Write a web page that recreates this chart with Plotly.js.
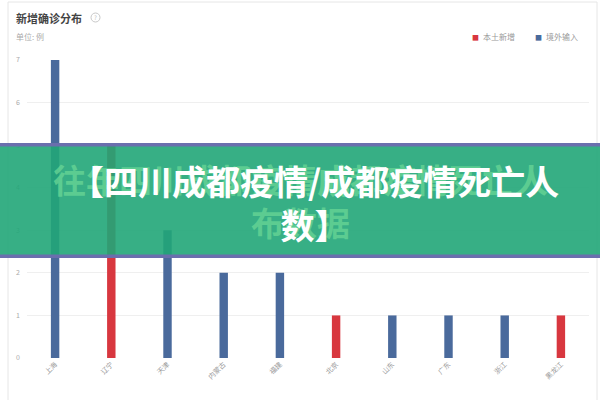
<!DOCTYPE html>
<html>
<head>
<meta charset="utf-8">
<script src="https://cdn.plot.ly/plotly-3.0.1.min.js"></script>
<style>html,body{margin:0;padding:0;background:#fff;}#chart{width:600px;height:400px;}</style>
</head>
<body>
<div id="chart"></div>
<script>
const categories = ['上海','辽宁','天津','内蒙古','福建','北京','山东','广东','浙江','黑龙江'];
const localNew = [null, 5, null, null, null, 1, null, null, null, 1];
const imported = [7, null, 3, 2, 2, null, 1, 1, 1, null];
const seriesNames = ['本土新增', '境外输入'];
const seriesColors = ['#d8373f', '#4a6a9c'];
const yTicks = [0,1,2,3,4,5,6,7];

const W = 600, H = 400, L = 27, R = 11, T = 60, B = 42;
const pw = W - L - R, ph = H - T - B;
const px = x => (x - L) / pw;
const py = y => (H - B - y) / ph;

const font = '"Noto Sans CJK SC", "Noto Sans", sans-serif';

const traces = [
  {type:'bar', name: seriesNames[0], x: categories, y: localNew, width: 0.15,
   marker:{color: seriesColors[0]}},
  {type:'bar', name: seriesNames[1], x: categories, y: imported, width: 0.15,
   marker:{color: seriesColors[1]}}
];

const legendAnn = [];
const legendX = [475, 538];
seriesNames.forEach((n, i) => {
  legendAnn.push({xref:'paper', yref:'paper', x: px(legendX[i]), y: py(37), xanchor:'center', yanchor:'middle',
    text:'■', showarrow:false, font:{size:7, color: seriesColors[i], family:font}});
  legendAnn.push({xref:'paper', yref:'paper', x: px(legendX[i] + 6), y: py(37), xanchor:'left', yanchor:'middle',
    text: n, showarrow:false, font:{size:8, color:'#999', family:font}});
});

const layout = {
  width: W, height: H,
  margin: {l: L, r: R, t: T, b: B, autoexpand: false},
  paper_bgcolor: '#ffffff', plot_bgcolor: '#ffffff',
  barmode: 'overlay',
  font: {family: font, color: '#999'},
  xaxis: {type:'category', tickangle: -45, tickfont:{size:7, color:'#999'},
          showgrid:false, zeroline:false, showline:false, ticks:'', automargin:false},
  yaxis: {range:[0,7], tickvals: yTicks, tickfont:{size:7, color:'#aaa'},
          gridcolor:'#efefef', zeroline:false, showline:false, ticks:'', automargin:false, ticklabelstandoff: 6},
  showlegend: false,
  shapes: [
    {type:'rect', xref:'paper', yref:'paper', x0: px(8), x1: px(597), y0: py(2), y1: py(405),
     line:{color:'#e6e6e6', width:1}, fillcolor:'rgba(0,0,0,0)', layer:'below'},
    {type:'circle', xref:'paper', yref:'paper', x0: px(91), x1: px(100), y0: py(13), y1: py(22),
     line:{color:'#c8c8c8', width:1}},
    {type:'rect', xref:'paper', yref:'paper', x0: px(-2), x1: px(602), y0: py(258), y1: py(143),
     line:{width:0}, fillcolor:'rgba(33,166,120,0.9)', layer:'above'},
    {type:'rect', xref:'paper', yref:'paper', x0: px(-2), x1: px(602), y0: py(146.5), y1: py(143),
     line:{width:0}, fillcolor:'rgba(110,108,176,0.95)', layer:'above'},
    {type:'rect', xref:'paper', yref:'paper', x0: px(-2), x1: px(602), y0: py(258), y1: py(254.5),
     line:{width:0}, fillcolor:'rgba(110,108,176,0.95)', layer:'above'}
  ],
  annotations: [
    {xref:'paper', yref:'paper', x: px(14), y: py(18), xanchor:'left', yanchor:'middle',
     text:'<b>新增确诊分布</b>', showarrow:false, font:{size:11, color:'#444', family:font}},
    {xref:'paper', yref:'paper', x: px(95.5), y: py(17.5), xanchor:'center', yanchor:'middle',
     text:'?', showarrow:false, font:{size:6, color:'#bbb', family:font}},
    {xref:'paper', yref:'paper', x: px(14), y: py(37), xanchor:'left', yanchor:'middle',
     text:'单位: 例', showarrow:false, font:{size:8, color:'#aaa', family:font}},
    ...legendAnn,
    {xref:'paper', yref:'paper', x: px(300), y: py(200), xanchor:'center', yanchor:'middle',
     text:'<b>往年四川成都疫情成都疫情死亡人<br>布数据</b>', showarrow:false, align:'center',
     font:{size:33, color:'rgba(105,214,150,0.75)', family:font}},
    {xref:'paper', yref:'paper', x: px(314), y: py(202), xanchor:'center', yanchor:'middle',
     text:'<b>【四川成都疫情/成都疫情死亡人<br>数】</b>', showarrow:false, align:'center',
     font:{size:34, color:'#ffffff', family:font}}
  ]
};

Plotly.newPlot('chart', traces, layout, {displayModeBar:false, staticPlot:true});
</script>
</body>
</html>
